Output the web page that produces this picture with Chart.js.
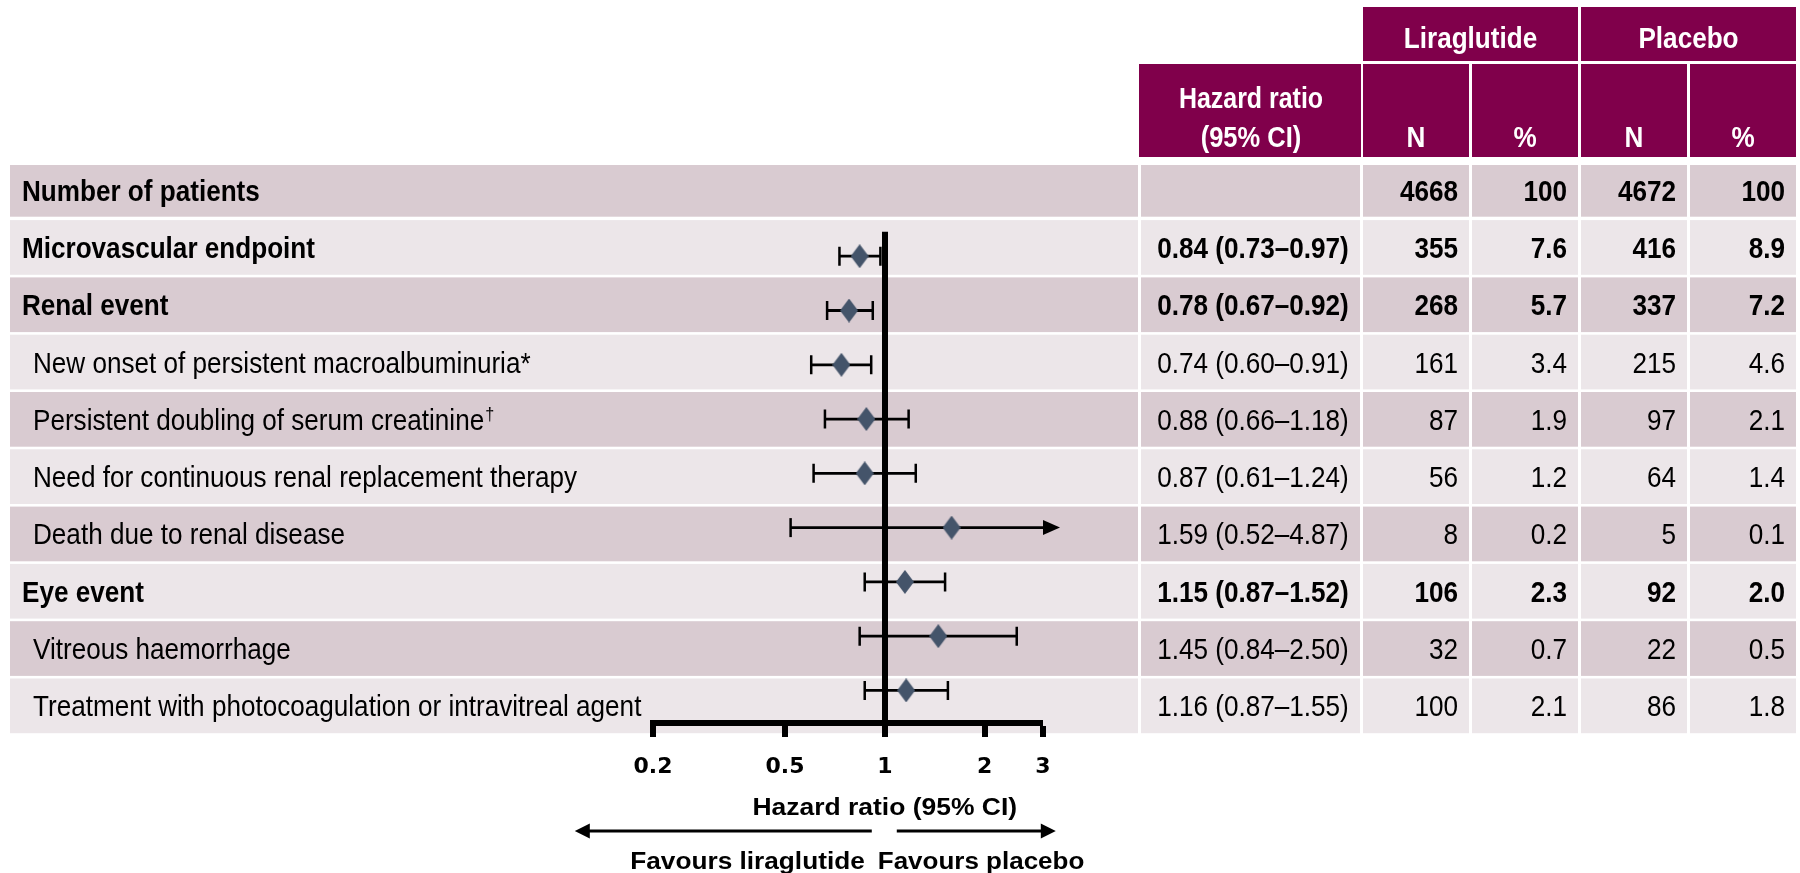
<!DOCTYPE html>
<html>
<head>
<meta charset="utf-8">
<title>Microvascular outcomes: liraglutide vs placebo</title>
<script src="https://cdn.jsdelivr.net/npm/chart.js@4.4.1/dist/chart.umd.min.js"></script>
<style>
  html, body { margin: 0; padding: 0; background: #ffffff; }
  #wrap { width: 1800px; height: 873px; }
</style>
</head>
<body>
<div id="wrap"><canvas id="forest" width="1800" height="873"></canvas></div>
<script>
// ---- Data -------------------------------------------------------------
const CATEGORIES = [
  'Number of patients',
  'Microvascular endpoint',
  'Renal event',
  'New onset of persistent macroalbuminuria*',
  'Persistent doubling of serum creatinine\u2020',
  'Need for continuous renal replacement therapy',
  'Death due to renal disease',
  'Eye event',
  'Vitreous haemorrhage',
  'Treatment with photocoagulation or intravitreal agent'
];
const SUMMARY_ROW = [true, true, true, false, false, false, false, true, false, false];
const HR      = [null, 0.84, 0.78, 0.74, 0.88, 0.87, 1.59, 1.15, 1.45, 1.16];
const CI_LOW  = [null, 0.73, 0.67, 0.60, 0.66, 0.61, 0.52, 0.87, 0.84, 0.87];
const CI_HIGH = [null, 0.97, 0.92, 0.91, 1.18, 1.24, 4.87, 1.52, 2.50, 1.55];
const LIRA_N   = [4668, 355, 268, 161, 87, 56, 8, 106, 32, 100];
const LIRA_PCT = ['100', '7.6', '5.7', '3.4', '1.9', '1.2', '0.2', '2.3', '0.7', '2.1'];
const PLAC_N   = [4672, 416, 337, 215, 97, 64, 5, 92, 22, 86];
const PLAC_PCT = ['100', '8.9', '7.2', '4.6', '2.1', '1.4', '0.1', '2.0', '0.5', '1.8'];
const X_TICKS = [0.2, 0.5, 1, 2, 3];
const X_MIN = 0.2, X_MAX = 3;

// ---- Styling ----------------------------------------------------------
const SANS = '"Liberation Sans", Arial, sans-serif';
const HEAD_BG = '#80004b';
const ROW_DARK = '#d9cbd1';
const ROW_LIGHT = '#ece6e9';
const MARKER = '#44546a';

// table columns: outcome, hazard ratio, lira N, lira %, placebo N, placebo %
const COLS = [
  { x0: 10,   x1: 1138 },
  { x0: 1141, x1: 1360 },
  { x0: 1363, x1: 1469 },
  { x0: 1472, x1: 1578 },
  { x0: 1581, x1: 1687 },
  { x0: 1690, x1: 1796 }
];
function rowBand(i) {
  if (i === 0) return { top: 165, bottom: 216.7 };
  const top = 162.8 + 57.3 * i;
  return { top, bottom: top + 54.7 };
}

function txt(ctx, s, x, y, o) {
  o = o || {};
  const size = o.size || 29, sx = o.sx || 0.9;
  ctx.save();
  ctx.translate(x, y);
  ctx.scale(sx, 1);
  ctx.font = (o.bold ? 'bold ' : '') + size + 'px ' + (o.family || SANS);
  ctx.fillStyle = o.color || '#000';
  ctx.textAlign = o.align || 'left';
  ctx.textBaseline = 'alphabetic';
  ctx.fillText(s, 0, 0);
  const w = ctx.measureText(s).width * sx;
  ctx.restore();
  return w;
}

function fmt(v) { return v.toFixed(2); }

// header cells and the striped table body
const tablePlugin = {
  id: 'outcomeTable',
  beforeDraw(chart) {
    const ctx = chart.ctx;
    ctx.save();
    // group headers
    ctx.fillStyle = HEAD_BG;
    ctx.fillRect(1363, 7, 1578 - 1363, 54);
    ctx.fillRect(1581, 7, 1796 - 1581, 54);
    // column headers
    ctx.fillRect(1139, 64, 1361 - 1139, 93);
    for (let c = 2; c < COLS.length; c++) ctx.fillRect(COLS[c].x0, 64, COLS[c].x1 - COLS[c].x0, 93);
    const white = { bold: true, color: '#fff', align: 'center' };
    txt(ctx, 'Liraglutide', (1363 + 1578) / 2, 48.3, white);
    txt(ctx, 'Placebo', (1581 + 1796) / 2, 48.3, white);
    txt(ctx, 'Hazard ratio', 1251, 108.3, Object.assign({ sx: 0.86 }, white));
    txt(ctx, '(95% CI)', 1251, 146.7, Object.assign({ sx: 0.88 }, white));
    ['N', '%', 'N', '%'].forEach((h, k) => {
      const col = COLS[k + 2];
      txt(ctx, h, (col.x0 + col.x1) / 2, 146.7, white);
    });

    // body rows
    CATEGORIES.forEach((label, i) => {
      const b = rowBand(i);
      ctx.fillStyle = i % 2 === 0 ? ROW_DARK : ROW_LIGHT;
      COLS.forEach(col => ctx.fillRect(col.x0, b.top, col.x1 - col.x0, b.bottom - b.top));
      const base = (b.top + b.bottom) / 2 + 10.5;
      const bold = SUMMARY_ROW[i];
      const lx = bold ? 22 : 33;
      if (label.endsWith('\u2020')) {
        const w = txt(ctx, label.slice(0, -1), lx, base, { bold });
        txt(ctx, '\u2020', lx + w + 1, base - 10, { bold, size: 18 });
      } else {
        txt(ctx, label, lx, base, { bold });
      }
      if (HR[i] !== null) {
        txt(ctx, fmt(HR[i]) + ' (' + fmt(CI_LOW[i]) + '\u2013' + fmt(CI_HIGH[i]) + ')', 1253, base, { bold, align: 'center' });
      }
      const cells = [String(LIRA_N[i]), LIRA_PCT[i], String(PLAC_N[i]), PLAC_PCT[i]];
      cells.forEach((s, k) => {
        const col = COLS[k + 2];
        txt(ctx, s, col.x1 - 11, base, { bold, align: 'right' });
      });
    });
    ctx.restore();
  }
};

// confidence-interval whiskers, capped or arrowed past the axis limit
const whiskerPlugin = {
  id: 'ciWhiskers',
  beforeDatasetsDraw(chart) {
    const { ctx } = chart;
    const xs = chart.scales.x, ys = chart.scales.y;
    ctx.save();
    ctx.strokeStyle = '#000';
    ctx.fillStyle = '#000';
    HR.forEach((hr, i) => {
      if (hr === null) return;
      const y = ys.getPixelForValue(i);
      const x0 = xs.getPixelForValue(Math.max(CI_LOW[i], X_MIN));
      const over = CI_HIGH[i] > X_MAX;
      const x1 = xs.getPixelForValue(Math.min(CI_HIGH[i], X_MAX));
      ctx.lineWidth = 2.8;
      ctx.beginPath();
      ctx.moveTo(x0, y); ctx.lineTo(x1, y);
      ctx.stroke();
      ctx.lineWidth = 2.5;
      ctx.beginPath();
      ctx.moveTo(x0, y - 9.5); ctx.lineTo(x0, y + 9.5);
      if (!over) { ctx.moveTo(x1, y - 9.5); ctx.lineTo(x1, y + 9.5); }
      ctx.stroke();
      if (over) {
        ctx.beginPath();
        ctx.moveTo(x1, y - 7.5); ctx.lineTo(x1 + 17, y); ctx.lineTo(x1, y + 7.5);
        ctx.closePath();
        ctx.fill();
      }
    });
    ctx.restore();
  }
};

// axis caption and the "favours" arrows under the plot
const footerPlugin = {
  id: 'favoursFooter',
  afterDraw(chart) {
    const { ctx } = chart;
    const p1 = chart.scales.x.getPixelForValue(1);
    const cap = { bold: true, size: 23, sx: 1.14 };
    txt(ctx, 'Hazard ratio (95% CI)', p1, 815, Object.assign({ align: 'center' }, cap, { sx: 1.15 }));
    const y = 831;
    function arrow(from, tip) {
      const dir = Math.sign(tip - from);
      ctx.save();
      ctx.strokeStyle = '#000'; ctx.fillStyle = '#000'; ctx.lineWidth = 3;
      ctx.beginPath(); ctx.moveTo(from, y); ctx.lineTo(tip - dir * 14, y); ctx.stroke();
      ctx.beginPath();
      ctx.moveTo(tip, y); ctx.lineTo(tip - dir * 15, y - 7.5); ctx.lineTo(tip - dir * 15, y + 7.5);
      ctx.closePath(); ctx.fill();
      ctx.restore();
    }
    arrow(p1 - 13, p1 - 310);
    arrow(p1 + 12, p1 + 171);
    txt(ctx, 'Favours liraglutide', p1 - 20, 868.5, Object.assign({ align: 'right' }, cap));
    txt(ctx, 'Favours placebo', p1 - 7, 868.5, Object.assign({ align: 'left' }, cap, { sx: 1.13 }));
  }
};

// diamond marker for the point estimates
const diamond = document.createElement('canvas');
diamond.width = 18; diamond.height = 24;
(function () {
  const g = diamond.getContext('2d');
  g.fillStyle = MARKER;
  g.beginPath();
  g.moveTo(9, 0); g.lineTo(18, 12); g.lineTo(9, 24); g.lineTo(0, 12);
  g.closePath(); g.fill();
})();

const points = [];
HR.forEach((v, i) => { if (v !== null) points.push({ x: v, y: i }); });

new Chart(document.getElementById('forest'), {
  type: 'scatter',
  data: {
    datasets: [{
      label: 'Hazard ratio',
      data: points,
      pointStyle: diamond,
      pointRadius: 10,
      clip: false
    }]
  },
  options: {
    responsive: false,
    animation: false,
    devicePixelRatio: 1,
    events: [],
    layout: { padding: { top: 231.8, left: 653, right: 757, bottom: 0 } },
    plugins: { legend: { display: false }, tooltip: { enabled: false } },
    scales: {
      x: {
        type: 'logarithmic',
        position: 'bottom',
        min: X_MIN,
        max: X_MAX,
        afterBuildTicks: s => { s.ticks = X_TICKS.map(v => ({ value: v })); },
        afterFit: s => { s.height = 150; },
        ticks: {
          autoSkip: false, maxRotation: 0, minRotation: 0,
          padding: 17, color: '#000',
          font: { family: '"DejaVu Sans", sans-serif', weight: 'bold', size: 22 },
          callback: v => String(v)
        },
        grid: {
          drawOnChartArea: true,
          drawTicks: true,
          tickLength: 14,
          tickWidth: 6,
          tickColor: '#000',
          color: c => (c.tick && c.tick.value === 1 ? '#000' : 'rgba(0,0,0,0)'),
          lineWidth: c => (c.tick && c.tick.value === 1 ? 6 : 0)
        },
        border: { display: true, color: '#000', width: 6 }
      },
      y: { type: 'linear', display: false, reverse: true, min: 0.55, max: 9.6 }
    }
  },
  plugins: [tablePlugin, whiskerPlugin, footerPlugin]
});
</script>
</body>
</html>
